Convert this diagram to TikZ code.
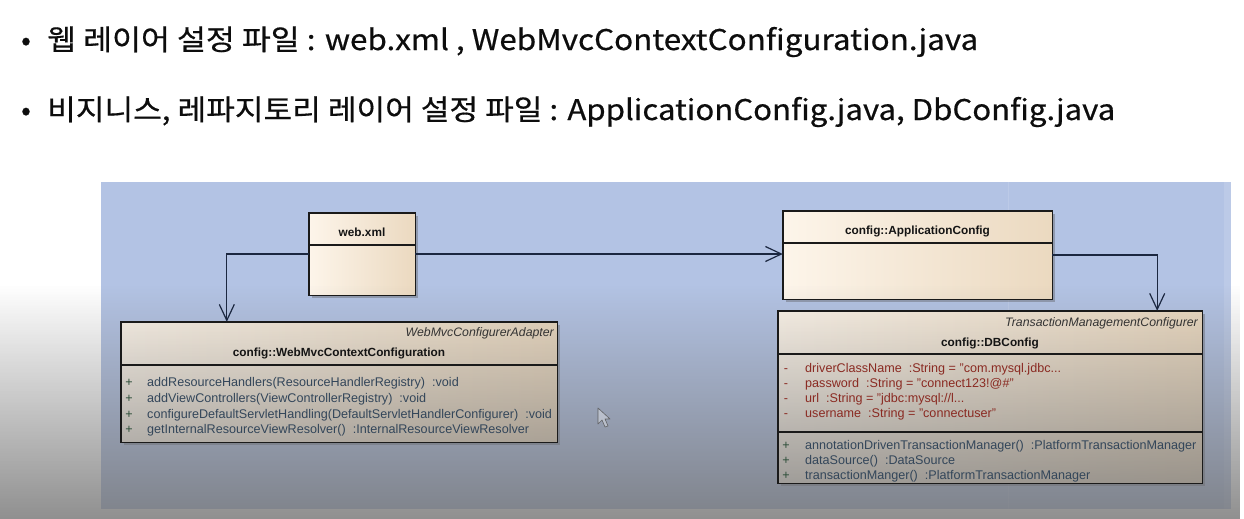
\documentclass[tikz,border=0pt]{standalone}
\usepackage{fontspec}
\usepackage{graphicx}
\setmainfont{Liberation Sans}
\newfontfamily\krfont[FakeBold=0.5]{Noto Sans CJK KR}
\usetikzlibrary{arrows.meta,shadows,fadings}

\definecolor{panelblue}{HTML}{B3C3E4}
\definecolor{boxlight}{HTML}{FDF5EA}
\definecolor{boxtan}{HTML}{EBD9C0}
\definecolor{edgedark}{HTML}{1A1A1A}
\definecolor{connnavy}{HTML}{1B2740}
\definecolor{opgreen}{HTML}{2E4F3A}
\definecolor{optext}{HTML}{33465A}
\definecolor{attrred}{HTML}{8A2A22}
\definecolor{dimgray}{HTML}{707070}

\tikzfading[name=dimfade, top color=transparent!100, bottom color=transparent!0]

\tikzset{
  classbox/.style={left color=boxlight, right color=boxtan,
    inner sep=0pt, drop shadow={shadow xshift=3pt, shadow yshift=-3pt, opacity=0.35, fill=black!70}},
  boxedge/.style={draw=edgedark, line width=1.4pt},
  divider/.style={draw=edgedark, line width=1.4pt},
  conn/.style={draw=connnavy, line width=1.2pt, -{Straight Barb[length=16pt, width=15pt]}},
  umlbold/.style={font=\fontsize{11.8pt}{14pt}\selectfont\bfseries, text=black!92, inner sep=0pt, anchor=base},
  umlital/.style={font=\fontsize{12.3pt}{14pt}\selectfont\itshape, text=black!80, inner sep=0pt, anchor=base east},
  opsign/.style={font=\fontsize{12.6pt}{14pt}\selectfont, text=opgreen, inner sep=0pt, anchor=base},
  optxt/.style={font=\fontsize{12.6pt}{14pt}\selectfont, text=optext, inner sep=0pt, anchor=base west},
  attrsign/.style={font=\fontsize{12.6pt}{14pt}\selectfont, text=attrred, inner sep=0pt, anchor=base},
  attrtxt/.style={font=\fontsize{12.6pt}{14pt}\selectfont, text=attrred, inner sep=0pt, anchor=base west},
  headline/.style={font=\krfont\fontsize{28.5pt}{32pt}\selectfont, text=black!95, inner sep=0pt, anchor=base west},
}

\begin{document}
\begin{tikzpicture}[x=1pt, y=-1pt]
\useasboundingbox (0,0) rectangle (1244,519);
\fill[white] (0,0) rectangle (1244,519);

% title lines
\node[headline, anchor=base] (b1) at (26,50) {•};
\node[headline] (t1) at (47,50) {\resizebox{931pt}{\height}{웹 레이어 설정 파일 : web.xml , WebMvcContextConfiguration.java}};
\node[headline, anchor=base] (b2) at (26,120) {•};
\node[headline] (t2) at (47,120) {\resizebox{1068pt}{\height}{비지니스, 레파지토리 레이어 설정 파일 : ApplicationConfig.java, DbConfig.java}};

% diagram canvas
\fill[panelblue] (101,182) rectangle (1231,509);
\fill[white, opacity=0.12] (1224,182) rectangle (1231,509);
\draw[white, opacity=0.12, line width=0.8pt] (1008,182) -- (1008,509);

% class bodies
\node[classbox, minimum width=106pt, minimum height=82pt] (web) at (362,254) {};
\node[classbox, minimum width=269pt, minimum height=88pt] (app) at (917.5,255) {};
\node[classbox, minimum width=436pt, minimum height=120pt] (wmc) at (339,382) {};
\node[classbox, minimum width=424pt, minimum height=172pt] (db) at (990,397) {};

% darkening towards the bottom edge
\fill[dimgray, fill opacity=0.78, path fading=dimfade, fit fading=true] (0,285) rectangle (1244,519);

% class outlines and compartments
\foreach \b in {web,app,wmc,db}
  \draw[boxedge] (\b.north west) rectangle (\b.south east);
\draw[divider] (web.west |- 0,245) -- (web.east |- 0,245);
\draw[divider] (app.west |- 0,243) -- (app.east |- 0,243);
\draw[divider] (wmc.west |- 0,365) -- (wmc.east |- 0,365);
\draw[divider] (db.west |- 0,354) -- (db.east |- 0,354);
\draw[divider] (db.west |- 0,432) -- (db.east |- 0,432);

% connectors
\draw[conn] (web.west) -| ([xshift=106pt]wmc.north west);
\draw[conn] (web.east) -- (web.east -| app.west);
\draw[conn] (app.east) -| ([xshift=-45pt]db.north east);

% web.xml
\node[umlbold] (webname) at (362,236) {web.xml};

% ApplicationConfig
\node[umlbold] (appname) at (917.5,234) {config::ApplicationConfig};

% WebMvcContextConfiguration
\node[umlital] (wmcsuper) at (554,336) {WebMvcConfigurerAdapter};
\node[umlbold] (wmcname) at (339,356) {config::WebMvcContextConfiguration};
\foreach \y/\t [count=\i] in {386/{addResourceHandlers(ResourceHandlerRegistry)\ \ :void},
    402/{addViewControllers(ViewControllerRegistry)\ \ :void},
    418/{configureDefaultServletHandling(DefaultServletHandlerConfigurer)\ \ :void},
    433/{getInternalResourceViewResolver()\ \ :InternalResourceViewResolver}} {
  \node[opsign] (wmcs\i) at (129,\y) {+};
  \node[optxt] (wmco\i) at (147,\y) {\t};
}

% DBConfig
\node[umlital] (dbsuper) at (1198,326) {TransactionManagementConfigurer};
\node[umlbold] (dbname) at (990,346) {config::DBConfig};
\foreach \y/\t [count=\i] in {372/{driverClassName\ \ :String = "com.mysql.jdbc...},
    387/{password\ \ :String = "connect123!@\#"},
    402/{url\ \ :String = "jdbc:mysql://l...},
    417/{username\ \ :String = "connectuser"}} {
  \node[attrsign] (dbas\i) at (786,\y) {-};
  \node[attrtxt] (dba\i) at (805,\y) {\t};
}
\foreach \y/\t [count=\i] in {449/{annotationDrivenTransactionManager()\ \ :PlatformTransactionManager},
    464/{dataSource()\ \ :DataSource},
    479/{transactionManger()\ \ :PlatformTransactionManager}} {
  \node[opsign] (dbos\i) at (786,\y) {+};
  \node[optxt] (dbo\i) at (805,\y) {\t};
}

% mouse pointer
\draw[gray!60!black, fill=white, fill opacity=0.35, draw opacity=0.8, line width=0.6pt, line join=round]
  (598,408) -- (598,424) -- (602,420) -- (605,427) -- (608,426) -- (605,419) -- (610,419) -- cycle;
\end{tikzpicture}
\end{document}
